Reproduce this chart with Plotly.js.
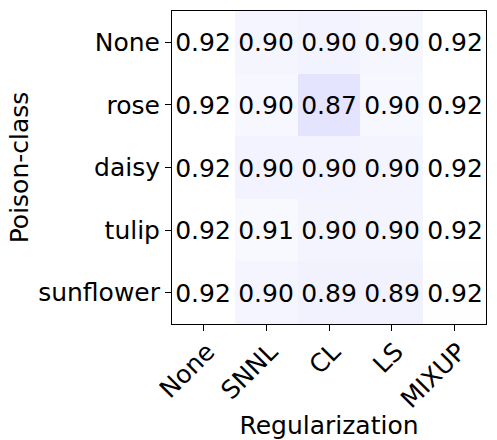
<!DOCTYPE html>
<html>
<head>
<meta charset="utf-8">
<script src="https://cdn.plot.ly/plotly-3.0.1.min.js"></script>
<style>
  body { margin: 0; background: #fff; }
  #chart { width: 497px; height: 440px; }
</style>
</head>
<body>
<div id="chart"></div>
<script>
// regularization methods along the bottom
var regularization = ["None", "SNNL", "CL", "LS", "MIXUP"];

// poison classes, top to bottom
var poisonClass = ["None", "rose", "daisy", "tulip", "sunflower"];

// accuracy per poison class (rows) and regularization (columns)
var accNone = [0.920, 0.900, 0.897, 0.902, 0.920];
var accRose = [0.920, 0.904, 0.868, 0.904, 0.920];
var accDaisy = [0.920, 0.897, 0.897, 0.898, 0.920];
var accTulip = [0.920, 0.906, 0.898, 0.898, 0.920];
var accSunflower = [0.920, 0.901, 0.894, 0.894, 0.922];

var z = [accNone, accRose, accDaisy, accTulip, accSunflower];

// baseline used as the white centre of the colour map
var baseline = 0.92;

var trace = {
  type: "heatmap",
  x: regularization,
  y: poisonClass,
  z: z,
  zmin: baseline - 0.5,
  zmax: baseline + 0.5,
  colorscale: [[0, "rgb(0,0,255)"], [0.5, "rgb(255,255,255)"], [1, "rgb(255,0,0)"]],
  showscale: false,
  texttemplate: "%{z:.2f}",
  textfont: { family: "DejaVu Sans", size: 25, color: "#000" },
  hoverinfo: "skip"
};

var layout = {
  width: 497,
  height: 440,
  margin: { l: 172, r: 11, t: 11, b: 116 },
  paper_bgcolor: "#fff",
  plot_bgcolor: "#fff",
  font: { family: "DejaVu Sans", size: 25, color: "#000" },
  xaxis: {
    title: { text: "Regularization", font: { size: 25 }, standoff: 6 },
    automargin: false,
    tickangle: -45,
    ticklabelstandoff: -4,
    ticklabelshift: 4,
    ticks: "outside",
    ticklen: 6,
    tickcolor: "#000",
    showline: true,
    linecolor: "#000",
    linewidth: 1,
    mirror: true,
    showgrid: false,
    zeroline: false,
    fixedrange: true
  },
  yaxis: {
    title: { text: "Poison-class", font: { size: 25 }, standoff: 2 },
    automargin: false,
    autorange: "reversed",
    ticks: "outside",
    ticklen: 6,
    tickcolor: "#000",
    showline: true,
    linecolor: "#000",
    linewidth: 1,
    mirror: true,
    showgrid: false,
    zeroline: false,
    fixedrange: true
  }
};

Plotly.newPlot("chart", [trace], layout, { displayModeBar: false, staticPlot: true });
</script>
</body>
</html>
